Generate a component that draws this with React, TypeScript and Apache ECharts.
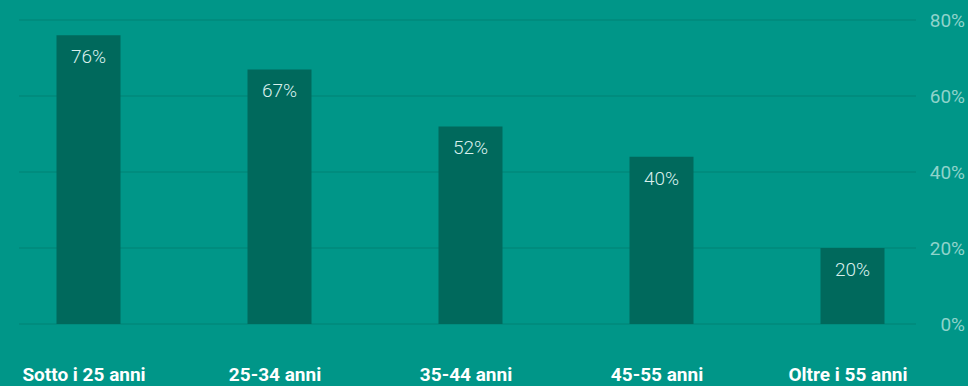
import React, { useEffect, useRef } from "react";
import * as echarts from "echarts";

const categories = ["Sotto i 25 anni", "25-34 anni", "35-44 anni", "45-55 anni", "Oltre i 55 anni"];
const values = [76, 67, 52, 44, 20];
const valueLabels = ["76%", "67%", "52%", "40%", "20%"];
const yTicks = [0, 20, 40, 60, 80];

export default function App() {
  const ref = useRef<HTMLDivElement>(null);
  useEffect(() => {
    document.body.style.margin = "0";
    const chart = echarts.init(ref.current!, null, { renderer: "svg" });
    chart.setOption({
      animation: false,
      backgroundColor: "#009688",
      textStyle: { fontFamily: "Roboto" },
      grid: [
        { left: 29, right: 52, top: 20, bottom: 62 },
        { left: 3, width: 955, top: 20, bottom: 62 },
      ],
      xAxis: [
        { type: "category", gridIndex: 0, data: categories, show: false },
        {
          type: "category",
          gridIndex: 1,
          data: categories,
          axisLine: { show: false },
          axisTick: { show: false },
          axisLabel: {
            color: "#ffffff",
            fontWeight: "bold",
            fontSize: 19,
            fontFamily: "Roboto",
            margin: 41,
            padding: [0, 9, 0, 0],
          },
        },
      ],
      yAxis: [
        {
          type: "value",
          gridIndex: 0,
          position: "right",
          min: yTicks[0],
          max: yTicks[yTicks.length - 1],
          interval: 20,
          axisLine: { show: false },
          axisTick: { show: false },
          splitLine: { lineStyle: { color: "#00887b", width: 1.5 } },
          axisLabel: {
            color: "#8fd3cb",
            fontSize: 19,
            fontFamily: "Roboto",
            align: "right",
            margin: 49,
            formatter: (v: number) => v + "%",
          },
        },
        {
          type: "value",
          gridIndex: 1,
          min: yTicks[0],
          max: yTicks[yTicks.length - 1],
          show: false,
          splitLine: { show: false },
        },
      ],
      series: [
        {
          type: "bar",
          xAxisIndex: 1,
          yAxisIndex: 1,
          data: values,
          barWidth: 64,
          itemStyle: { color: "#00695c" },
          label: {
            show: true,
            position: "insideTop",
            distance: 12,
            color: "#d9efec",
            fontSize: 19,
            fontFamily: "Roboto",
            fontWeight: 300,
            formatter: (p: any) => valueLabels[p.dataIndex],
          },
        },
      ],
    });
    return () => chart.dispose();
  }, []);
  return (
    <div style={{ width: 968, height: 386, overflow: "hidden", position: "relative", background: "#009688" }}>
      <div ref={ref} style={{ position: "absolute", left: -10, top: 0, width: 978, height: 386 }} />
    </div>
  );
}
